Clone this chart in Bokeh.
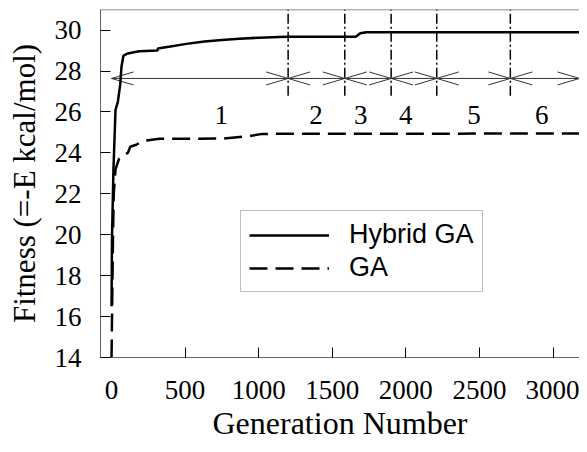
from bokeh.plotting import figure
from bokeh.models import Range1d, Span, Legend, LegendItem, FixedTicker
from bokeh.core.properties import value
from bokeh.embed import file_html
from bokeh.resources import INLINE

# ---- data ----
hybrid_gen = [0, 3, 13, 27, 43, 59, 68, 81, 111, 168, 190, 312, 315, 400, 509, 631,
              750, 868, 1000, 1187, 1660, 1690, 1730, 3180]
hybrid_fit = [16.5, 19.8, 23.2, 26.1, 26.5, 27.35, 28.24, 28.76, 28.86, 28.94, 28.97,
              29.0, 29.1, 29.2, 29.33, 29.45, 29.52, 29.58, 29.63, 29.68, 29.68,
              29.85, 29.9, 29.9]

ga_gen = [0, 5, 10, 15, 27, 50, 63, 111, 127, 168, 213, 326, 755, 937, 1026, 3180]
ga_fit = [14.0, 17.0, 20.0, 22.0, 23.2, 23.7, 23.8, 24.0, 24.3, 24.4, 24.58, 24.69,
          24.7, 24.82, 24.93, 24.95]

stage_bounds = [0, 1200, 1585, 1900, 2210, 2710, 3180]
stage_labels = ["1", "2", "3", "4", "5", "6"]
stage_label_x = [746, 1390, 1694, 1999, 2463, 2924]

x_ticks = [0, 500, 1000, 1500, 2000, 2500, 3000]
y_ticks = [14, 16, 18, 20, 22, 24, 26, 28, 30]

X_MIN, X_MAX = -75, 3180
Y_MIN, Y_MAX = 14, 31.01
FRAME_W, FRAME_H = 479, 348

# ---- figure ----
p = figure(width=579, height=444, x_range=Range1d(X_MIN, X_MAX), y_range=Range1d(Y_MIN, Y_MAX),
           output_backend="svg", toolbar_location=None,
           min_border_left=100, min_border_right=0, min_border_top=9, min_border_bottom=87)
p.outline_line_color = None
p.grid.visible = False
p.background_fill_color = "white"

serif = "Liberation Serif"
for ax in (p.xaxis[0], p.yaxis[0]):
    ax.major_tick_in = 10
    ax.major_tick_out = 0
    ax.minor_tick_line_color = None
    ax.major_tick_line_color = "black"
    ax.axis_line_color = "#666666"
    ax.major_label_text_font = serif
    ax.major_label_text_font_size = "27px"
    ax.major_label_text_color = "black"
    ax.axis_label_text_font = serif
    ax.axis_label_text_font_style = "normal"
    ax.axis_label_text_color = "black"

p.xaxis.ticker = FixedTicker(ticks=x_ticks)
p.yaxis.ticker = FixedTicker(ticks=y_ticks)
p.xaxis.major_label_standoff = 23
p.yaxis.major_label_standoff = 19
p.xaxis.axis_label = "Generation Number"
p.xaxis.axis_label_text_font_size = "32px"
p.xaxis.axis_label_standoff = 3
p.yaxis.axis_label = "Fitness (=-E kcal/mol)"
p.yaxis.axis_label_text_font_size = "31px"
p.yaxis.axis_label_standoff = 10

p.add_layout(Span(location=Y_MAX, dimension="width", line_color="#666666", line_width=1.5))

# ---- stage markers ----
arrow_y = 27.64
px_per_x = FRAME_W / (X_MAX - X_MIN)
px_per_y = FRAME_H / (Y_MAX - Y_MIN)
head_dx = 22 / px_per_x
head_dy = 6.5 / px_per_y

inner = stage_bounds[1:-1]
p.segment(x0=inner, y0=[26.8] * len(inner), x1=inner, y1=[Y_MAX] * len(inner),
          line_color="black", line_width=1.5, line_dash="10 3 2 3")

p.segment(x0=[stage_bounds[0]], y0=[arrow_y], x1=[stage_bounds[-1]], y1=[arrow_y],
          line_color="#333333", line_width=1)

hx0, hy0, hx1, hy1 = [], [], [], []
for a, b in zip(stage_bounds[:-1], stage_bounds[1:]):
    for tip, d in ((a, head_dx), (b, -head_dx)):
        for s in (1, -1):
            hx0.append(tip); hy0.append(arrow_y)
            hx1.append(tip + d); hy1.append(arrow_y + s * head_dy)
p.segment(x0=hx0, y0=hy0, x1=hx1, y1=hy1, line_color="#333333", line_width=1)

p.text(x=stage_label_x, y=[25.85] * len(stage_labels), text=stage_labels,
       text_font=value(serif), text_font_size="27px", text_color="black",
       text_align="center", text_baseline="alphabetic")

# ---- curves ----
r_h = p.line(hybrid_gen, hybrid_fit, line_color="black", line_width=2.5)
r_g = p.line(ga_gen, ga_fit, line_color="black", line_width=2.5, line_dash="18 8")

legend = Legend(items=[LegendItem(label="Hybrid GA", renderers=[r_h]),
                       LegendItem(label="GA", renderers=[r_g])],
                location=(140, 65))
legend.label_text_font = "Liberation Sans"
legend.label_text_font_size = "27px"
legend.label_text_color = "black"
legend.glyph_width = 80
legend.label_standoff = 20
legend.padding = 8
legend.spacing = 2
legend.margin = 0
legend.border_line_color = "#808080"
legend.border_line_width = 1
legend.background_fill_alpha = 1
p.add_layout(legend, "center")

open("out.html", "w").write(file_html(p, INLINE))
